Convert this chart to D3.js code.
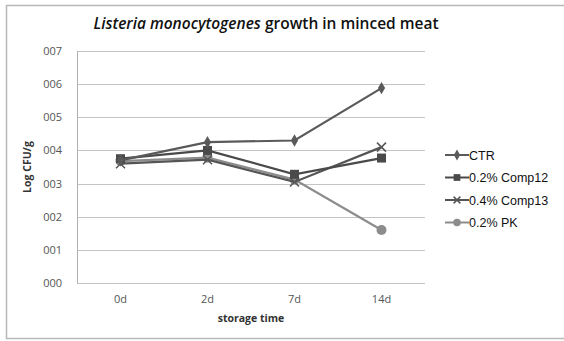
<!DOCTYPE html>
<html>
<head>
<meta charset="utf-8">
<script src="https://cdn.jsdelivr.net/npm/d3@7"></script>
<style>
  body { margin: 0; background: #fff; }
  svg text { font-family: "Open Sans", "DejaVu Sans", sans-serif; }
</style>
</head>
<body>
<div id="chart"></div>
<script>
var width = 564, height = 341;

// data
var categories = ["0d", "2d", "7d", "14d"];
var yTicks = [0, 1, 2, 3, 4, 5, 6, 7];
var yTickLabels = ["000", "001", "002", "003", "004", "005", "006", "007"];
var seriesNames = ["CTR", "0.2% Comp12", "0.4% Comp13", "0.2% PK"];
var ctrValues = [3.7, 4.25, 4.3, 5.88];
var comp12Values = [3.75, 4.0, 3.28, 3.77];
var comp13Values = [3.6, 3.72, 3.05, 4.1];
var pkValues = [3.68, 3.78, 3.12, 1.6];

var seriesColors = ["#5a5a5a", "#4a4a4a", "#555555", "#8c8c8c"];
var seriesShapes = ["diamond", "square", "cross", "circle"];

var series = [ctrValues, comp12Values, comp13Values, pkValues].map(function (v, i) {
    return { name: seriesNames[i], values: v, color: seriesColors[i], shape: seriesShapes[i] };
});

var margin = { left: 77, top: 51, right: 139, bottom: 58 };

var svg = d3.select("#chart")
    .append("svg")
    .attr("width", width)
    .attr("height", height);

// outer chart border
svg.append("rect")
    .attr("x", 6.5).attr("y", 5.5)
    .attr("width", width + 10).attr("height", 333)
    .attr("fill", "#fff")
    .attr("stroke", "#b8b8b8")
    .attr("stroke-width", 1.5);

var x = d3.scaleBand()
    .domain(categories)
    .range([margin.left, width - margin.right]);

var y = d3.scaleLinear()
    .domain([0, 7])
    .range([height - margin.bottom, margin.top]);

// gridlines
svg.append("g")
    .selectAll("line")
    .data(yTicks)
    .enter()
    .append("line")
    .attr("x1", margin.left)
    .attr("x2", width - margin.right)
    .attr("y1", d => Math.round(y(d)) + 0.5)
    .attr("y2", d => Math.round(y(d)) + 0.5)
    .attr("stroke", "#c4c4c4")
    .attr("stroke-width", 1);

// left axis line
svg.append("line")
    .attr("x1", margin.left + 0.5).attr("x2", margin.left + 0.5)
    .attr("y1", y(7)).attr("y2", y(0))
    .attr("stroke", "#b0b0b0");

// y tick labels
svg.append("g")
    .selectAll("text")
    .data(yTicks)
    .enter()
    .append("text")
    .attr("x", 62)
    .attr("y", d => y(d) + 4)
    .attr("text-anchor", "end")
    .attr("fill", "#555")
    .style("font-size", "11px")
    .text((d, i) => yTickLabels[i]);

// x tick labels
svg.append("g")
    .selectAll("text")
    .data(categories)
    .enter()
    .append("text")
    .attr("x", d => x(d) + x.bandwidth() / 2)
    .attr("y", 303)
    .attr("text-anchor", "middle")
    .attr("fill", "#555")
    .style("font-size", "11px")
    .text(d => d);

// axis titles
svg.append("text")
    .attr("x", (margin.left + width - margin.right) / 2)
    .attr("y", 322)
    .attr("text-anchor", "middle")
    .attr("fill", "#333")
    .style("font-size", "10.5px")
    .style("font-weight", "bold")
    .text("storage time");

svg.append("text")
    .attr("transform", "translate(31," + ((y(7) + y(0)) / 2) + ") rotate(-90)")
    .attr("text-anchor", "middle")
    .attr("fill", "#333")
    .style("font-size", "10.5px")
    .style("font-weight", "bold")
    .text("Log CFU/g");

// title
var title = svg.append("text")
    .attr("x", 266)
    .attr("y", 29)
    .attr("text-anchor", "middle")
    .attr("fill", "#111")
    .style("font-size", "15.5px")
    .style("font-weight", "600");
title.append("tspan").style("font-style", "italic").text("Listeria monocytogenes");
title.append("tspan").text(" growth in minced meat");

// symbols
function drawMarker(g, shape, color, cx, cy, scale) {
    var s = scale || 1;
    if (shape === "diamond") {
        g.append("path")
            .attr("d", d3.symbol().type(d3.symbolDiamond).size(45 * s)())
            .attr("transform", "translate(" + cx + "," + cy + ")")
            .attr("fill", color);
    } else if (shape === "square") {
        g.append("rect")
            .attr("x", cx - 4.5 * s).attr("y", cy - 4.5 * s)
            .attr("width", 9 * s).attr("height", 9 * s)
            .attr("fill", color);
    } else if (shape === "cross") {
        var r = 4.5 * s;
        g.append("path")
            .attr("d", "M" + (cx - r) + "," + (cy - r) + "L" + (cx + r) + "," + (cy + r) +
                "M" + (cx - r) + "," + (cy + r) + "L" + (cx + r) + "," + (cy - r))
            .attr("stroke", color)
            .attr("stroke-width", 1.5)
            .attr("fill", "none");
    } else {
        g.append("circle")
            .attr("cx", cx).attr("cy", cy)
            .attr("r", 5 * s)
            .attr("fill", color);
    }
}

var line = d3.line()
    .x((d, i) => x(categories[i]) + x.bandwidth() / 2)
    .y(d => y(d));

// draw PK first so darker series sit on top
var drawOrder = [3, 2, 1, 0];
drawOrder.forEach(function (k) {
    var s = series[k];
    var g = svg.append("g");
    g.append("path")
        .datum(s.values)
        .attr("d", line)
        .attr("fill", "none")
        .attr("stroke", s.color)
        .attr("stroke-width", 2.2);
    s.values.forEach(function (v, i) {
        drawMarker(g, s.shape, s.color, x(categories[i]) + x.bandwidth() / 2, y(v));
    });
});

// legend
var legend = svg.append("g");
series.forEach(function (s, i) {
    var ly = 155 + i * 22.5;
    legend.append("line")
        .attr("x1", 445).attr("x2", 469)
        .attr("y1", ly).attr("y2", ly)
        .attr("stroke", s.color)
        .attr("stroke-width", 2);
    drawMarker(legend, s.shape, s.color, 457, ly, 0.75);
    legend.append("text")
        .attr("x", 469)
        .attr("y", ly + 4.5)
        .attr("fill", "#111")
        .style("font-family", "'Liberation Sans', Arial, sans-serif")
        .style("font-size", "12.5px")
        .text(s.name);
});
</script>
</body>
</html>
